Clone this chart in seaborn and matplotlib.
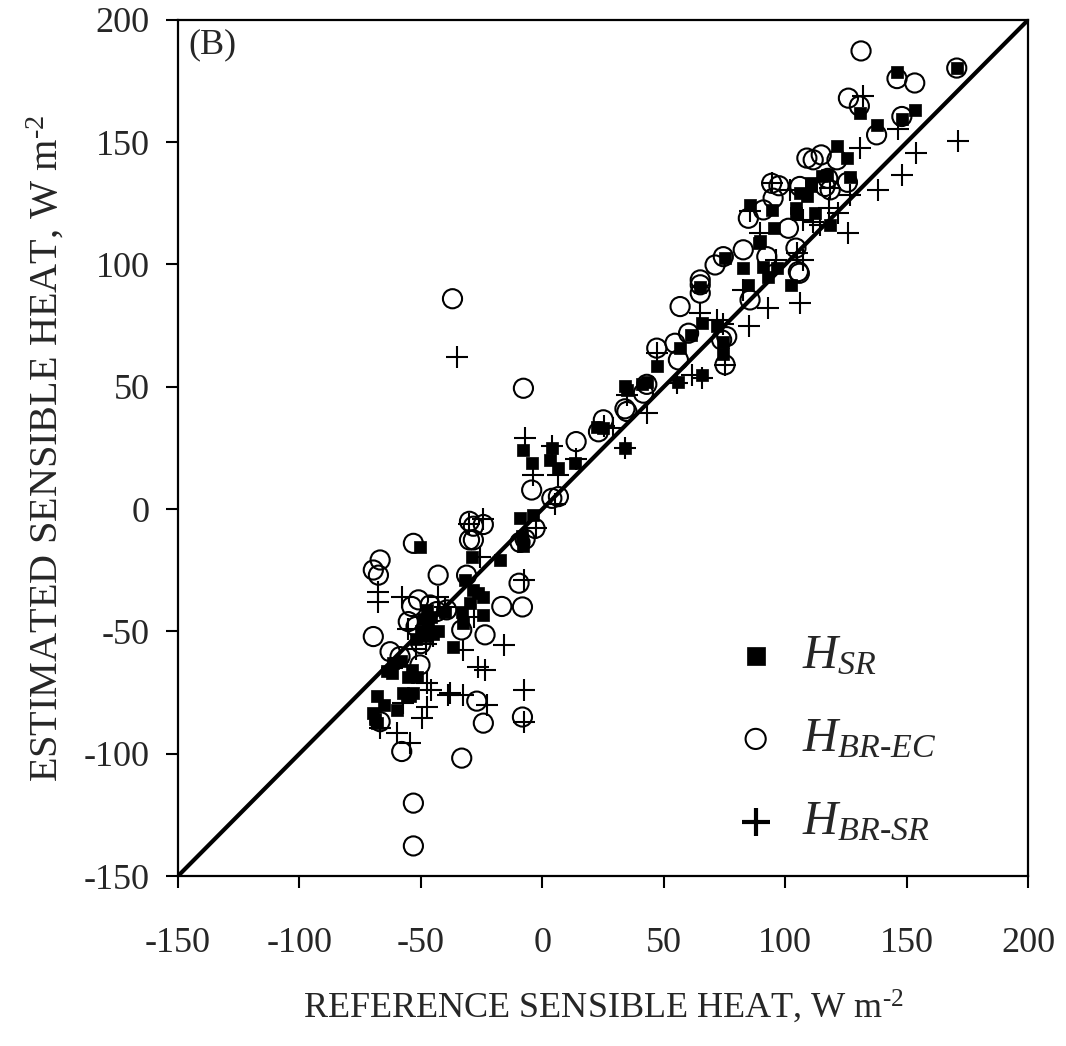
import numpy as np
import pandas as pd
import matplotlib
matplotlib.use("Agg")
import matplotlib.pyplot as plt
import seaborn as sns

# H_SR (filled squares)
sr_x = [170.6, 146, 130.8, 153.4, 148, 137.6, 121.3, 125.4, 126.5, 117, 115, 110.5, 106, 108.8,
        85.5, 94.4, 104.4, 104.4, 112.3, 118.5, 95.5, 89.4, 75.2, 82.8, 91, 93, 96.4, 102.3, 84.8,
        65, 65.6, 71.8, 74.5, 74.5, 61, 56.7, 47.4, 56, 65.6, 43, 34.8, 34, 41, 89, 110.8,
        22.4, 25.1, 34, -7.8, -4.4, 3.9, 3.2, 6.6, 13.5, -9.2, -3.7, -8.5, -8,
        -50.4, -29.1, -17.4, -31.8, -28.4, -26.4, -24.3, -29.8, -24.3, -33.2, -32.5, -47.6,
        -49, -47, -45, -43, -48, -46, -50, -36.7, -61.4, -53.8, -62, -55.2, -51.7, -68.2, -65.4,
        -57.2, -54.5, -69.6, -68.2, -60, -55.8, -53.1, -69, -40, -52, -58, -64]
sr_y = [180.3, 178.7, 161.9, 163.1, 159.5, 156.9, 148.6, 143.5, 135.9, 136.6, 136, 133.2, 129.1, 127.8,
        124.4, 122.3, 123, 121, 121, 116.2, 115, 109.4, 102.6, 98.5, 99.1, 95, 98.5, 91.7, 91.7,
        91, 76, 74.9, 68.5, 63.5, 71, 65.8, 58.3, 52, 54.9, 52.1, 48.7, 50.5, 51, 108.7, 131.9,
        33.7, 33, 24.9, 24.2, 18.8, 24.9, 20, 16.6, 18.8, -3.8, -2.4, -11, -15,
        -15.4, -19.4, -20.8, -29, -33, -34.4, -35.8, -38.5, -43.3, -41.9, -46.6, -41.2,
        -45, -48, -51, -50, -52, -44, -50, -56.2, -63, -65.7, -67, -68.5, -68.5, -76.6, -80,
        -75.3, -76.6, -83.4, -87.5, -82.1, -76.6, -75.3, -86, -42, -53, -62, -66]

# H_BR-EC (open circles)
ec_x = [131.2, 170.6, 146, 153.3, 126, 130.5, 148, 137.6, 108.9, 111.5, 114.8, 121.3, 125.6, 117.5,
        116.4, 118.5, 94.4, 97.4, 106, 95, 91, 84.8, 101.3, 82.7, 74.5, 71.1, 92.4, 104.4, 105.8,
        85.5, 65, 65, 65, 56.7, 75.9, 75.2, 60.2, 54.6, 47.1, 56, 43, 34, 25.1, 23.1, 34.8, 41.6,
        13.9, 73.8, 105.4,
        -7.8, -37, -4.4, 3.9, 6.6, -28.4, -24.3, -28.4, -3, -9.2, -7.1,
        -53.1, -30, -30, -66.8, -69.6, -67.5, -42.9, -31.2, -16.7, -33.2, -51, -53.8, -46.2, -43.5,
        -39.4, -69.6, -55.2, -23.6, -62.7, -50.4, -58.6, -27, -24.3, -57.9, -33.2, -53.1, -53.1,
        -66.8, -8.2, -8.2, -9.6, -50, -52]
ec_y = [187.3, 180.3, 176, 174.2, 168, 164.8, 160.5, 153, 143.5, 142.8, 144.8, 142.8, 133.6, 135.2,
        131.9, 130.5, 133.2, 132.2, 131.9, 127.1, 122.3, 118.9, 114.8, 106, 103.2, 99.8, 103.2, 106.7, 96.4,
        85.5, 93.7, 91.7, 88.3, 82.8, 70.5, 59, 71.9, 67.8, 65.8, 61, 51, 41, 36.5, 31.6, 39.9, 47.4,
        27.6, 69.2, 97.1,
        49.4, 86, 7.8, 4.4, 5.1, -7, -6.3, -12.6, -7.9, -13.6, -12.3,
        -14, -5, -12.6, -20.8, -24.9, -27, -27, -27, -39.8, -49.4, -37.1, -39.8, -39.2, -41.9,
        -41.2, -52.1, -46, -51.4, -58.3, -63.7, -60.3, -78.5, -87.5, -99.1, -101.8, -120.2, -137.7,
        -86.9, -85, -40, -30.3, -55, -48]

# H_BR-SR (plus)
bs_x = [132, 146.6, 171.2, 153.9, 130.8, 147.9, 138.3, 118.5, 94.4, 102, 85.5, 107.4, 111.5, 114.2,
        121.8, 126, 89.6, 96.2, 105, 82.7, 93, 106, 65, 74.5, 85.2, 71.8, 75.2, 47.1, 55.3, 61.4,
        65.6, 34.8, 43, 126.7, 107.5, 118,
        -7.1, -4, 3.9, 6.6, 13.9, 5.2, 25.5, 29, 34, -24.3, -2.5, -35,
        -30, -25.6, -67.5, -67.5, -57.9, -42.8, -55.2, -32.5, -16, -47.6, -46, -26.4, -23.6, -38,
        -32.5, -22.9, -57.2, -66.8, -60, -54.5, -49.7, -47.6, -38.7, -7.5, -7.5, -7.5, -48, -45,
        -62, -40, -28, -52]
bs_y = [169, 155.5, 150.3, 145.5, 147.5, 136.6, 130.5, 131.2, 133.2, 130.5, 122, 118.2, 117.5, 116,
        121, 112.8, 112.8, 102, 104.5, 89.5, 82.1, 84.2, 80, 75.5, 74.9, 77.3, 59, 64, 51.5, 54.9,
        53.5, 46.5, 39.2, 128.5, 101.9, 123,
        29, 14, 26, 13.8, 20.5, 2, 34, 33, 24.9, -4.2, -7.9, 62,
        -6, -19.4, -33.7, -37.8, -35.8, -35.8, -49, -57.6, -55.5, -71.2, -74, -64.4, -65.7, -75.3,
        -76, -80, -79.4, -89.6, -91.6, -95.7, -85.5, -80.8, -76, -74, -87, -29, -55, -52,
        -65, -40, -44, -57]

line_x = [-150, 200]
x_ticks = [-150, -100, -50, 0, 50, 100, 150, 200]
y_ticks = [-150, -100, -50, 0, 50, 100, 150, 200]

sns.set_style("ticks")
plt.rcParams["font.family"] = ["Liberation Serif", "DejaVu Serif"]
plt.rcParams["mathtext.fontset"] = "custom"
plt.rcParams["mathtext.rm"] = "Liberation Serif"
plt.rcParams["mathtext.it"] = "Liberation Serif:italic"
plt.rcParams["axes.unicode_minus"] = False

fig = plt.figure(figsize=(10.66, 10.46), dpi=100)
ax = fig.add_axes([0.167, 0.1625, 0.7975, 0.8185])

sns.lineplot(x=line_x, y=line_x, ax=ax, color="black", linewidth=3.0, zorder=1)

sns.scatterplot(x=ec_x, y=ec_y, ax=ax, marker="o", s=190, facecolor="none",
                edgecolor="black", linewidth=1.5,
                label=r"$\mathit{H}_{\mathit{BR}\text{-}\mathit{EC}}$", zorder=2)
sns.scatterplot(x=sr_x, y=sr_y, ax=ax, marker="s", s=80, color="black",
                edgecolor="black", linewidth=0.5, label=r"$\mathit{H}_{\mathit{SR}}$", zorder=3)
sns.scatterplot(x=bs_x, y=bs_y, ax=ax, marker="+", s=260, color="black",
                linewidth=1.5, label=r"$\mathit{H}_{\mathit{BR}\text{-}\mathit{SR}}$", zorder=4)

ax.set_xlim(-150, 200)
ax.set_ylim(-150, 200)
ax.set_xticks(x_ticks)
ax.set_yticks(y_ticks)
ax.tick_params(axis="both", direction="out", length=8.5, width=1.5, labelsize=26, color="black")
ax.tick_params(axis="x", pad=28)
ax.tick_params(axis="y", pad=12)
for sp in ax.spines.values():
    sp.set_linewidth(1.6)
    sp.set_color("black")

ax.set_xlabel(r"REFERENCE SENSIBLE HEAT, W m$^{\text{-2}}$", fontsize=26, labelpad=20)
ax.set_ylabel(r"ESTIMATED SENSIBLE HEAT, W m$^{\text{-2}}$", fontsize=29, labelpad=12)
ax.text(0.012, 0.99, "(B)", transform=ax.transAxes, fontsize=26, va="top", ha="left")

handles, labels = ax.get_legend_handles_labels()
order = [1, 0, 2]
leg = ax.legend([handles[i] for i in order], [labels[i] for i in order],
                loc="lower left", bbox_to_anchor=(0.628, 0.014), frameon=False,
                fontsize=35, labelspacing=0.8, handlelength=1.0, handletextpad=0.45,
                borderaxespad=0.0)
sizes = [150, 210, 420]
for h, s in zip(leg.legend_handles, sizes):
    h.set_sizes([s])
leg.legend_handles[2].set_linewidths([3.0])

fig.savefig("out.png", dpi=100)
